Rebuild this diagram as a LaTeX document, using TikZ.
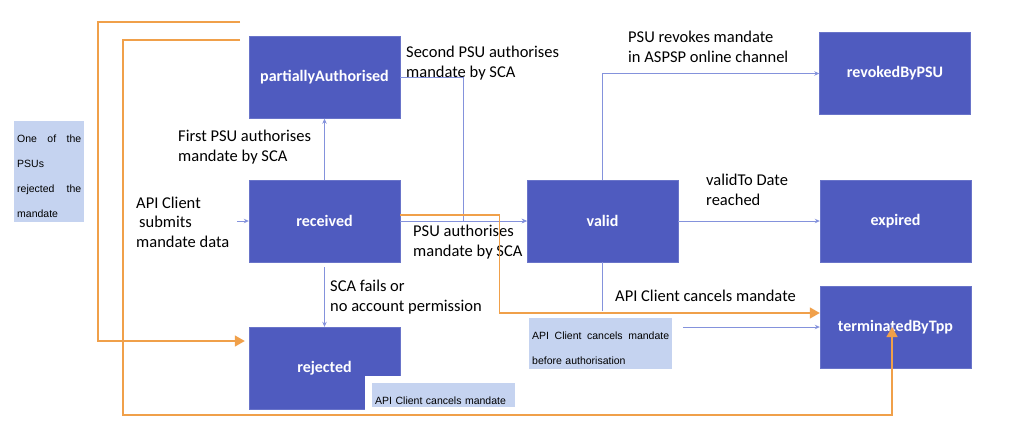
\documentclass[tikz,border=0pt]{standalone}
\usepackage{fontspec}
\setmainfont{Carlito}
\newfontfamily\notefont{Liberation Sans}
\usetikzlibrary{arrows.meta,positioning,calc}
\definecolor{stateblue}{HTML}{4F5BBF}
\definecolor{linkblue}{HTML}{8492DC}
\definecolor{noteblue}{HTML}{C5D3F0}
\definecolor{cancelorange}{HTML}{F0A04A}

\begin{document}
\begin{tikzpicture}[x=1pt,y=-1pt,
  state/.style={draw=stateblue!85!white, fill=stateblue, text=white, minimum width=151pt, minimum height=82pt, inner sep=0pt, font=\bfseries\fontsize{16}{18}\selectfont},
  note/.style={preaction={draw=white, line width=14pt}, fill=noteblue, inner xsep=3pt, inner ysep=0pt, anchor=north west, font=\notefont\fontsize{10.5}{25}\selectfont},
  lbl/.style={font=\fontsize{16.5}{19.5}\selectfont, align=left, inner sep=0pt, anchor=west},
  flow/.style={draw=linkblue, line width=0.9pt, -{Stealth[length=5pt,width=4.5pt]}},
  link/.style={draw=linkblue, line width=0.9pt},
  back/.style={draw=cancelorange, line width=1.4pt, -{Triangle[length=10pt,width=11pt]}},
]
\useasboundingbox (0,0) rectangle (1024,437);

% states
\node[state] (pa)  at (324.5,77.5) {partiallyAuthorised};
\node[state] (rcv) at (324.5,221)  {received};
\node[state] (rej) at (324.5,368)  {rejected};
\node[state] (val) at (602.5,221)  {valid};
\node[state] (rev) at (895,73.5)   {revokedByPSU};
\node[state] (exp) at (895.5,221)  {expired};
\node[state] (tbt) at (895.5,327)  {terminatedByTpp};

% transitions
\coordinate (entry) at (237,221);
\draw[flow] (entry) -- (rcv.west);
\draw[flow] (rcv.north) -- (pa.south);
\draw[flow] (pa.east) -- ++(63,0) |- (val.west);
\draw[flow] (rcv.east) -- (val.west);
\draw[flow] ([yshift=-5pt]rcv.south) -- (rej.north);
\draw[flow] (val.north) |- (rev.west);
\draw[flow] (val.east) -- (exp.west);
\draw[link] (val.south) -- ++(0,60);

% labels
\node[lbl] (lfirst)  at (178,147) {First PSU authorises\\mandate by SCA};
\node[lbl] (lsubmit) at (136,222) {API Client\\\hspace*{3pt}submits\\mandate data};
\node[lbl] (lsecond) at (406,63)  {Second PSU authorises\\mandate by SCA};
\node[lbl] (lauth)   at (413,242) {PSU authorises\\mandate by SCA};
\node[lbl] (lfail)   at (330,297) {SCA fails or\\no account permission};
\node[lbl] (lrevoke) at (628,47)  {PSU revokes mandate\\in ASPSP online channel};
\node[lbl] (lexpire) at (706,190) {validTo Date\\reached};
\node[lbl] (lcancel) at (615,296) {API Client cancels mandate};

% notes
\node[note, text width=64pt] (rejnote) at (14,121)
  {\rule{0pt}{21pt}One\hfill of\hfill the\\PSUs\\rejected\hfill the\\mandate\rule[-4.7pt]{0pt}{0pt}};
\node[note, text width=137pt] (prenote) at (529,318)
  {\rule{0pt}{21pt}API\hfill Client\hfill cancels\hfill mandate\\before authorisation\rule[-5pt]{0pt}{0pt}};
\node[note, text width=137pt] (cannote) at (372,383)
  {\rule{0pt}{21pt}API Client cancels mandate\rule[-3pt]{0pt}{0pt}};
\draw[flow] (tbt.west -| prenote.east) ++(11,0) -- (tbt.west);

% cancellation paths
\coordinate (rejstart) at (240,22);
\coordinate (cancstart) at (240,40);
\coordinate (tbtin) at ([xshift=-3.5pt]tbt.center);
\draw[back] ([yshift=6pt]rcv.east) -- ++(99,0) |- ([yshift=14pt]tbt.west);
\draw[back] (rejstart) -| (98,341) -- ([xshift=-4pt,yshift=27pt]rej.west);
\draw[back] (cancstart) -| (123,415) -| (tbtin);
\end{tikzpicture}
\end{document}
